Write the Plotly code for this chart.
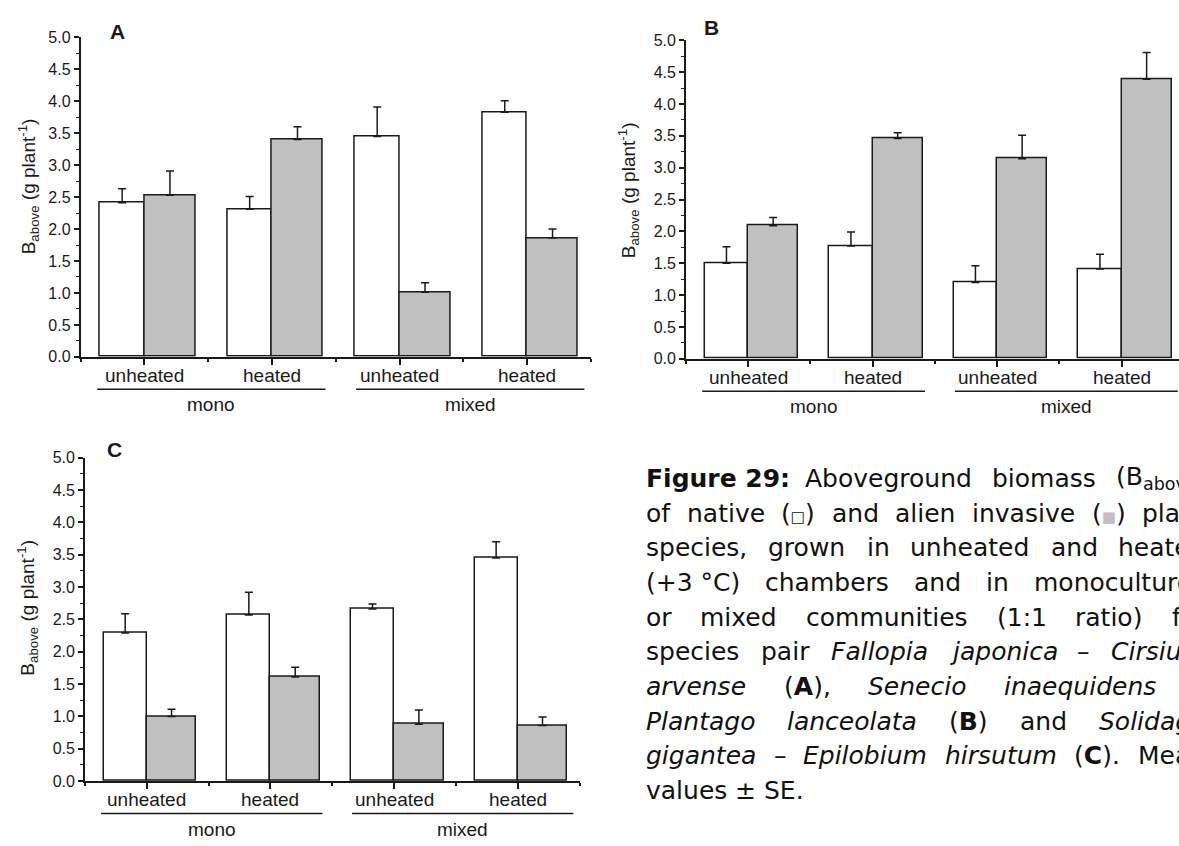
import re
import plotly.graph_objects as go

W, H = 1179, 846

# ---- data -------------------------------------------------------------
groups = ["unheated", "heated", "unheated", "heated"]
communities = ["mono", "mixed"]
y_ticks = [0.0, 0.5, 1.0, 1.5, 2.0, 2.5, 3.0, 3.5, 4.0, 4.5, 5.0]

# A: Fallopia japonica - Cirsium arvense
native_A = [2.41, 2.31, 3.45, 3.83]
native_A_se = [0.22, 0.20, 0.46, 0.18]
alien_A = [2.53, 3.40, 1.01, 1.86]
alien_A_se = [0.38, 0.20, 0.15, 0.14]

# B: Senecio inaequidens - Plantago lanceolata
native_B = [1.50, 1.77, 1.20, 1.41]
native_B_se = [0.26, 0.22, 0.26, 0.23]
alien_B = [2.09, 3.46, 3.14, 4.39]
alien_B_se = [0.13, 0.09, 0.37, 0.42]

# C: Solidago gigantea - Epilobium hirsutum
native_C = [2.29, 2.57, 2.66, 3.45]
native_C_se = [0.30, 0.35, 0.08, 0.25]
alien_C = [1.00, 1.61, 0.88, 0.86]
alien_C_se = [0.11, 0.15, 0.22, 0.13]

# ---- styling ----------------------------------------------------------
AXIS_FONT = "Liberation Sans, Arial, sans-serif"
CAP_FONT = "DejaVu Sans, sans-serif"
INK = "#1a1a1a"
GREY = "#c0c0c0"
W_NATIVE, W_ALIEN = 0.35, 0.40
LABEL_SIZE = 19


def px(x):
    return x / W


def py(y):
    return 1 - y / H


panels = [
    dict(letter="A", native=native_A, native_se=native_A_se, alien=alien_A, alien_se=alien_A_se,
         xdom=(80.7, 590.8), ydom=(356, 30), xmax=4.5, letter_xy=(117, 24), title_xy=(28, 182)),
    dict(letter="B", native=native_B, native_se=native_B_se, alien=alien_B, alien_se=alien_B_se,
         xdom=(686, 1179), ydom=(358, 33), xmax=4.46, letter_xy=(711, 20), title_xy=(628, 186)),
    dict(letter="C", native=native_C, native_se=native_C_se, alien=alien_C, alien_se=alien_C_se,
         xdom=(85, 579.6), ydom=(789, 459), xmax=4.5, letter_xy=(114, 451), title_xy=(28, 612)),
]

cats = list(range(1, len(groups) + 1))
minor_x = [c - 0.5 for c in cats] + [cats[-1] + 0.5]
minor_y = [v + 0.25 for v in y_ticks[:-1]]

fig = go.Figure()
annotations = []
shapes = []

for i, p in enumerate(panels):
    n = "" if i == 0 else str(i + 1)
    xa, ya = "x" + n, "y" + n

    fig.add_trace(go.Bar(
        x=[c - W_NATIVE / 2 for c in cats], y=p["native"], width=W_NATIVE,
        marker=dict(color="white", line=dict(color=INK, width=1.5)),
        error_y=dict(type="data", array=p["native_se"], arrayminus=[0] * len(cats),
                     symmetric=False, color=INK, thickness=1.5, width=4),
        xaxis=xa, yaxis=ya, showlegend=False, hoverinfo="skip"))
    fig.add_trace(go.Bar(
        x=[c + W_ALIEN / 2 for c in cats], y=p["alien"], width=W_ALIEN,
        marker=dict(color=GREY, line=dict(color=INK, width=1.5)),
        error_y=dict(type="data", array=p["alien_se"], arrayminus=[0] * len(cats),
                     symmetric=False, color=INK, thickness=1.5, width=4),
        xaxis=xa, yaxis=ya, showlegend=False, hoverinfo="skip"))

    x0, x1 = p["xdom"]
    yb, yt = p["ydom"]
    fig.layout["xaxis" + n] = dict(
        domain=[px(x0), px(x1)], range=[0.5, p["xmax"]], anchor=ya,
        showline=True, linecolor=INK, linewidth=1.8, showgrid=False, zeroline=False,
        ticks="outside", ticklen=6, tickwidth=1.5, tickcolor=INK,
        tickvals=cats, showticklabels=False,
        minor=dict(tickvals=minor_x, ticks="outside", ticklen=3, tickwidth=1.5, tickcolor=INK),
        fixedrange=True)
    fig.layout["yaxis" + n] = dict(
        domain=[py(yb), py(yt)], range=[0, 5], anchor=xa,
        showline=True, linecolor=INK, linewidth=1.8, showgrid=False, zeroline=False,
        ticks="outside", ticklen=5, tickwidth=1.5, tickcolor=INK,
        tickvals=y_ticks, tickformat=".1f",
        tickfont=dict(family=AXIS_FONT, size=16, color=INK),
        minor=dict(tickvals=minor_y, ticks="outside", ticklen=3, tickwidth=1.2, tickcolor=INK),
        fixedrange=True)

    # treatment labels under each bar pair
    for c, g in zip(cats, groups):
        annotations.append(dict(text=g, xref=xa, yref="paper", x=c, y=py(yb + 19),
                                xanchor="center", yanchor="middle", showarrow=False,
                                font=dict(family=AXIS_FONT, size=LABEL_SIZE, color=INK)))

    # community grouping: underline + label
    for (a, b), label in zip([(0.63, 2.42), (2.66, 4.45)], communities):
        shapes.append(dict(type="line", xref=xa, yref="paper", x0=a, x1=min(b, p["xmax"] + 0.2),
                           y0=py(yb + 33), y1=py(yb + 33), line=dict(color=INK, width=1.5)))
        annotations.append(dict(text=label, xref=xa, yref="paper", x=(a + b) / 2,
                                y=py(yb + 49), xanchor="center", yanchor="middle", showarrow=False,
                                font=dict(family=AXIS_FONT, size=LABEL_SIZE, color=INK)))

    lx, ly = p["letter_xy"]
    annotations.append(dict(text="<b>%s</b>" % p["letter"], xref="paper", yref="paper",
                            x=px(lx), y=py(ly), xanchor="center", yanchor="middle",
                            showarrow=False, font=dict(family=AXIS_FONT, size=21, color=INK)))
    tx, ty = p["title_xy"]
    annotations.append(dict(text="B<sub>above</sub> (g plant<sup>-1</sup>)", xref="paper",
                            yref="paper", x=px(tx), y=py(ty), xanchor="center",
                            yanchor="middle", textangle=-90, showarrow=False,
                            font=dict(family=AXIS_FONT, size=19, color=INK)))

# ---- figure caption: justified block, words laid out individually -------
CAP_SIZE = 25
CAP_LEFT, CAP_RIGHT = 645, 1205
CAP_TOP, CAP_LEAD = 480, 35.4

caption = [
    ["<b>Figure 29:</b>", "Aboveground", "biomass", "(B<sub>above</sub>)"],
    ["of", "native", "(<span style='font-size:15px'>\u25a1</span>)", "and", "alien", "invasive",
     "(<span style='font-size:15px;color:%s'>\u25a0</span>)" % GREY, "plant"],
    ["species,", "grown", "in", "unheated", "and", "heated"],
    ["(+3 \u00b0C)", "chambers", "and", "in", "monocultures"],
    ["or", "mixed", "communities", "(1:1", "ratio)", "for"],
    ["species", "pair", "<i>Fallopia</i>", "<i>japonica</i>", "\u2013", "<i>Cirsium</i>"],
    ["<i>arvense</i>", "(<b>A</b>),", "<i>Senecio</i>", "<i>inaequidens</i>", "\u2013"],
    ["<i>Plantago</i>", "<i>lanceolata</i>", "(<b>B</b>)", "and", "<i>Solidago</i>"],
    ["<i>gigantea</i>", "\u2013", "<i>Epilobium</i>", "<i>hirsutum</i>", "(<b>C</b>).", "Mean"],
    ["values", "\u00b1", "SE."],
]

# approximate DejaVu Sans advance widths (em)
ADV = {" ": .318, "a": .613, "b": .635, "c": .550, "d": .635, "e": .615, "f": .352, "g": .635,
       "h": .634, "i": .278, "j": .278, "k": .579, "l": .278, "m": .974, "n": .634, "o": .612,
       "p": .635, "q": .635, "r": .411, "s": .521, "t": .392, "u": .634, "v": .592, "w": .818,
       "x": .592, "y": .592, "z": .525, "A": .684, "B": .686, "C": .698, "E": .632, "F": .575,
       "M": .863, "P": .603, "S": .635, "(": .390, ")": .390, ":": .337, ".": .318, ",": .318,
       "+": .838, "\u00b0": .500, "\u00b1": .838, "\u2013": .500}


def word_width(html):
    width, bold, sub, small = 0.0, False, False, False
    for tok in re.findall(r"<[^>]+>|[^<]", html):
        if tok.startswith("<"):
            t = tok.lower()
            if t == "<b>":
                bold = True
            elif t == "</b>":
                bold = False
            elif t == "<sub>":
                sub = True
            elif t == "</sub>":
                sub = False
            elif t.startswith("<span"):
                small = True
            elif t == "</span>":
                small = False
            continue
        if small:
            width += 0.945 * 15 / CAP_SIZE
            continue
        w = 0.636 if tok.isdigit() else ADV.get(tok, 0.6)
        if bold:
            w *= 1.1
        if sub:
            w *= 0.7
        width += w
    return width * CAP_SIZE


for k, line in enumerate(caption):
    widths = [word_width(wd) for wd in line]
    last = k == len(caption) - 1
    if last or len(line) == 1:
        gap = ADV[" "] * CAP_SIZE
    else:
        gap = (CAP_RIGHT - CAP_LEFT - sum(widths)) / (len(line) - 1)
    xw = CAP_LEFT
    ybase = CAP_TOP + CAP_LEAD * k
    for wd, w in zip(line, widths):
        annotations.append(dict(text=wd, xref="paper", yref="paper", x=px(xw), y=py(ybase),
                                xanchor="left", yanchor="middle", showarrow=False,
                                borderpad=0, font=dict(family=CAP_FONT, size=CAP_SIZE,
                                                       color="#111111")))
        xw += w + gap

fig.update_layout(
    width=W, height=H, margin=dict(l=0, r=0, t=0, b=0),
    paper_bgcolor="white", plot_bgcolor="white",
    barmode="overlay", bargap=0,
    annotations=annotations, shapes=shapes,
)

fig.write_html("out.html")
